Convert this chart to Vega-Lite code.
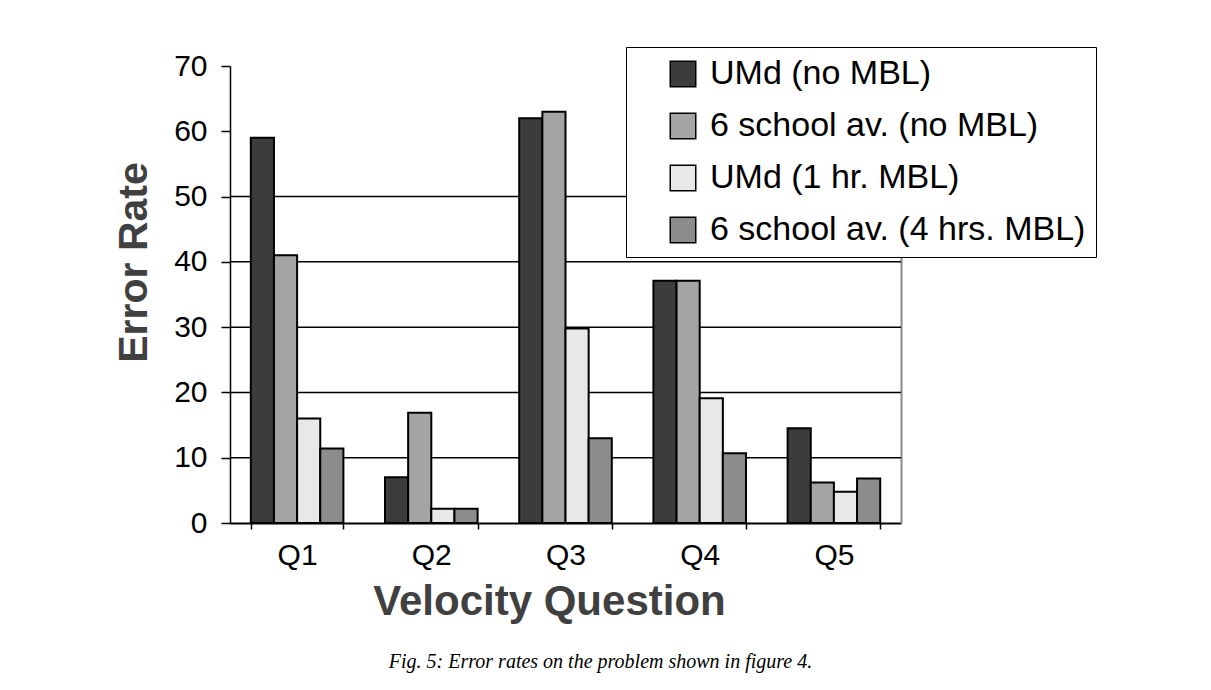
{
  "$schema": "https://vega.github.io/schema/vega-lite/v6.json",
  "width": 671,
  "height": 457,
  "autosize": {"type": "none"},
  "padding": {"left": 230, "top": 66, "right": 310, "bottom": 167},
  "background": "white",
  "config": {"view": {"stroke": null}, "font": "Liberation Sans"},
  "title": {
    "text": "Fig. 5: Error rates on the problem shown in figure 4.",
    "orient": "bottom",
    "anchor": "middle",
    "font": "Liberation Serif",
    "fontStyle": "italic",
    "fontWeight": "normal",
    "fontSize": 20,
    "color": "black",
    "dx": 35,
    "offset": 30
  },
  "datasets": {
    "gridvals": [{"v": 10}, {"v": 20}, {"v": 30}, {"v": 40}, {"v": 50}],
    "barvals": [
      {"q": "Q1", "s": "UMd (no MBL)", "r": 59},
      {"q": "Q1", "s": "6 school av. (no MBL)", "r": 41},
      {"q": "Q1", "s": "UMd (1 hr. MBL)", "r": 16},
      {"q": "Q1", "s": "6 school av. (4 hrs. MBL)", "r": 11.4},
      {"q": "Q2", "s": "UMd (no MBL)", "r": 7},
      {"q": "Q2", "s": "6 school av. (no MBL)", "r": 16.9},
      {"q": "Q2", "s": "UMd (1 hr. MBL)", "r": 2.2},
      {"q": "Q2", "s": "6 school av. (4 hrs. MBL)", "r": 2.2},
      {"q": "Q3", "s": "UMd (no MBL)", "r": 62},
      {"q": "Q3", "s": "6 school av. (no MBL)", "r": 63},
      {"q": "Q3", "s": "UMd (1 hr. MBL)", "r": 29.8},
      {"q": "Q3", "s": "6 school av. (4 hrs. MBL)", "r": 13},
      {"q": "Q4", "s": "UMd (no MBL)", "r": 37.1},
      {"q": "Q4", "s": "6 school av. (no MBL)", "r": 37.1},
      {"q": "Q4", "s": "UMd (1 hr. MBL)", "r": 19.1},
      {"q": "Q4", "s": "6 school av. (4 hrs. MBL)", "r": 10.7},
      {"q": "Q5", "s": "UMd (no MBL)", "r": 14.5},
      {"q": "Q5", "s": "6 school av. (no MBL)", "r": 6.2},
      {"q": "Q5", "s": "UMd (1 hr. MBL)", "r": 4.8},
      {"q": "Q5", "s": "6 school av. (4 hrs. MBL)", "r": 6.8}
    ]
  },
  "layer": [
    {
      "data": {"name": "gridvals"},
      "mark": {"type": "rule", "color": "black", "strokeWidth": 1.5},
      "encoding": {
        "y": {
          "field": "v",
          "type": "quantitative",
          "scale": {"domain": [0, 70], "nice": false},
          "axis": {
            "orient": "right",
            "labels": false,
            "ticks": false,
            "grid": false,
            "domain": true,
            "domainColor": "#888888",
            "domainWidth": 2,
            "title": null
          }
        }
      }
    },
    {
      "data": {"name": "barvals"},
      "mark": {"type": "bar", "stroke": "black", "strokeWidth": 2, "opacity": 1},
      "encoding": {
        "x": {
          "field": "q",
          "type": "nominal",
          "scale": {"paddingInner": 0.31, "paddingOuter": 0.155},
          "axis": {
            "title": "Velocity Question",
            "labelAngle": 0,
            "tickBand": "extent",
            "domainColor": "black",
            "domainWidth": 2,
            "tickColor": "black",
            "tickSize": 6,
            "tickWidth": 1.5,
            "labelFontSize": 30,
            "labelColor": "black",
            "labelPadding": 11,
            "titleFontSize": 42,
            "titleFontWeight": "bold",
            "titleColor": "#404040",
            "titlePadding": 11,
            "titleX": 319
          }
        },
        "xOffset": {
          "field": "s",
          "type": "nominal",
          "scale": {
            "domain": ["UMd (no MBL)", "6 school av. (no MBL)", "UMd (1 hr. MBL)", "6 school av. (4 hrs. MBL)"],
            "paddingInner": 0,
            "paddingOuter": 0
          }
        },
        "y": {
          "field": "r",
          "type": "quantitative",
          "axis": {
            "title": "Error Rate",
            "values": [0, 10, 20, 30, 40, 50, 60, 70],
            "grid": false,
            "domainColor": "black",
            "domainWidth": 1.5,
            "tickColor": "black",
            "tickSize": 9,
            "tickWidth": 1.5,
            "labelFontSize": 30,
            "labelColor": "black",
            "labelPadding": 14,
            "titleFontSize": 41,
            "titleFontWeight": "bold",
            "titleColor": "#404040",
            "titlePadding": 18,
            "titleY": 196
          }
        },
        "color": {
          "field": "s",
          "type": "nominal",
          "scale": {
            "domain": ["UMd (no MBL)", "6 school av. (no MBL)", "UMd (1 hr. MBL)", "6 school av. (4 hrs. MBL)"],
            "range": ["#3c3c3c", "#a4a4a4", "#e8e8e8", "#8c8c8c"]
          },
          "legend": {
            "orient": "none",
            "legendX": 396,
            "legendY": -19,
            "title": null,
            "labelFontSize": 34,
            "labelColor": "black",
            "labelLimit": 700,
            "labelExpr": "datum.label + '    '",
            "symbolType": "square",
            "symbolSize": 650,
            "symbolStrokeColor": "black",
            "symbolStrokeWidth": 1.5,
            "symbolOpacity": 1,
            "fillColor": "white",
            "strokeColor": "black",
            "padding": 10,
            "symbolOffset": 30,
            "rowPadding": 18,
            "labelOffset": 10
          }
        }
      }
    }
  ],
  "resolve": {"axis": {"y": "independent"}}
}
